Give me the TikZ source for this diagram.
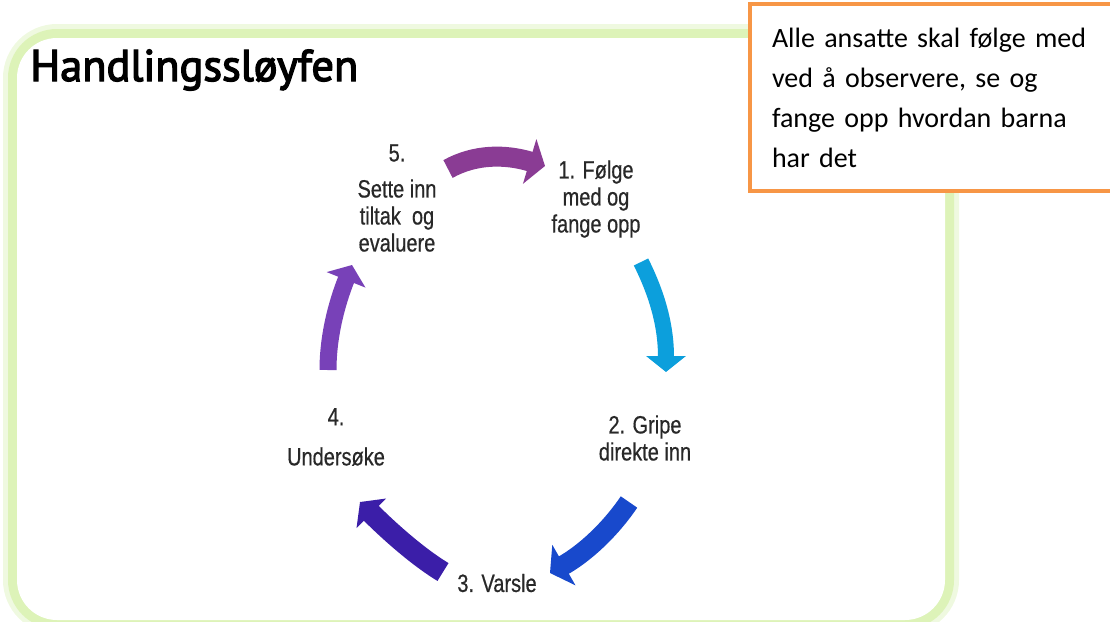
\documentclass[tikz,border=0pt]{standalone}
\usepackage{fontspec}
\setmainfont{Liberation Sans}
\newfontfamily\titlefont[FakeBold=3]{PT Sans}
\newfontfamily\cyclefont[FakeStretch=0.8,FakeBold=0.5]{Liberation Sans}
\newfontfamily\notefont{Carlito}
\usetikzlibrary{arrows.meta}

\definecolor{glow}{RGB}{221,243,184}
\definecolor{glowfade}{RGB}{239,249,224}
\definecolor{noteorange}{RGB}{247,150,70}
\definecolor{labelgray}{RGB}{40,40,40}
\definecolor{arrowfive}{RGB}{138,60,148}
\definecolor{arrowone}{RGB}{12,159,220}
\definecolor{arrowtwo}{RGB}{24,73,204}
\definecolor{arrowthree}{RGB}{59,30,168}
\definecolor{arrowfour}{RGB}{120,65,184}

\begin{document}
\begin{tikzpicture}[x=0.5pt,y=-0.5pt]
\useasboundingbox (0,0) rectangle (1110,622);

%light green frame round the slide
\draw[line width=14pt,glowfade,rounded corners=20pt] (17,38) rectangle (945,620);
\draw[line width=9pt,glow,rounded corners=20pt] (17,38) rectangle (945,620);
\fill[white,rounded corners=20pt] (17,38) rectangle (945,620);

\node[anchor=base west,inner sep=0pt,font=\titlefont\fontsize{22.2}{26}\selectfont] (title) at (30,81) {Handlingssløyfen};

%orange note box, cut at the right edge
\node[draw=noteorange,line width=2pt,fill=white,anchor=north west,align=left,
      text width=162pt,inner xsep=11pt,inner ysep=2pt,minimum height=93.5pt,
      font=\notefont\fontsize{14}{20}\selectfont] (note) at (748,2)
      {Alle ansatte skal følge med\\ved å observere, se og\\fange opp hvordan barna\\har det};

%the five steps of the loop
\begin{scope}[every node/.style={align=center,text=labelgray,
              font=\cyclefont\fontsize{12.5}{13.5}\selectfont}]
    \node (s5) at (397,198) {5.\\[4.5pt]Sette inn\\tiltak\ \ og\\evaluere};
    \node (s1) at (596,199) {1. Følge\\med og\\fange opp};
    \node (s2) at (645,438) {2. Gripe\\direkte inn};
    \node (s3) at (497,583) {3. Varsle};
    \node (s4) at (336,437) {4.\\[6.5pt]Undersøke};
\end{scope}

%ends of the curved arrows
\coordinate (t5) at (448,169); \coordinate (h1) at (545,166);
\coordinate (t1) at (641,262); \coordinate (h2) at (666,372);
\coordinate (t2) at (629,502); \coordinate (h3) at (550,573);
\coordinate (t3) at (443,572); \coordinate (h4) at (360,502);
\coordinate (t4) at (328,370); \coordinate (h5) at (352,265);

%one thick arrow between each pair of steps
\begin{scope}[looparrow/.style={-{Triangle[width=#1,length=8pt]}}]
    \draw[looparrow=23pt,line width=10pt,arrowfive] (t5) .. controls +(27,-15) and +(-40,-12) .. (h1);
    \draw[looparrow=19.5pt,line width=8pt,arrowone] (t1) .. controls +(14,28) and +(0,-50) .. (h2);
    \draw[looparrow=23pt,line width=10pt,arrowtwo] (t2) .. controls +(-19,28) and +(35,-20) .. (h3);
    \draw[looparrow=20.5pt,line width=10.5pt,arrowthree] (t3) .. controls +(-28,-17) and +(25,25) .. (h4);
    \draw[looparrow=20.5pt,line width=8.5pt,arrowfour] (t4) .. controls +(0,-40) and +(-12,30) .. (h5);
\end{scope}
\end{tikzpicture}
\end{document}
